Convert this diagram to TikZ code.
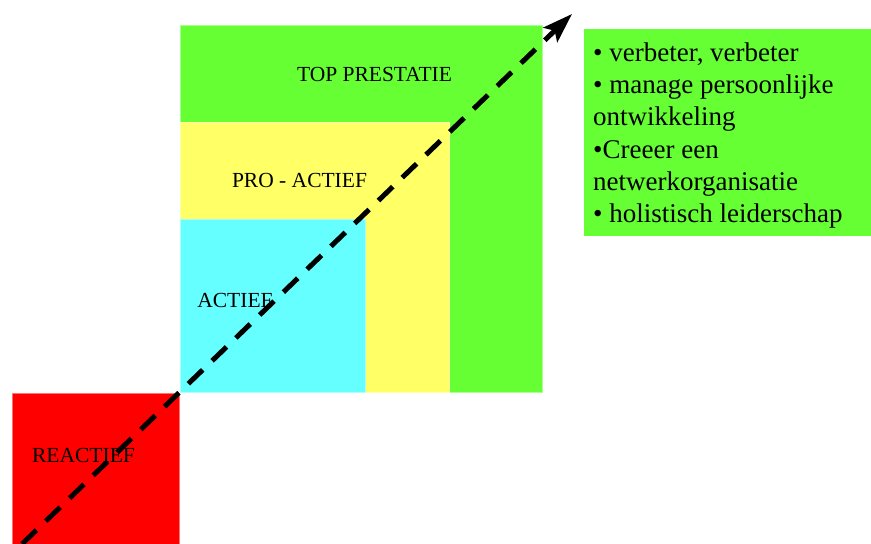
\documentclass[tikz,border=0pt]{standalone}
\usepackage{fontspec}
\setmainfont{Liberation Serif}
\usetikzlibrary{arrows.meta}

\definecolor{topgreen}{HTML}{66FF33}
\definecolor{proyellow}{HTML}{FFFF66}
\definecolor{actcyan}{HTML}{66FFFF}
\definecolor{reared}{HTML}{FF0000}

\begin{document}
\begin{tikzpicture}[x=1pt,y=-1pt,
  level/.style={draw=#1!55!white, line width=0.8pt, fill=#1},
  levellabel/.style={anchor=base, inner sep=0pt, font=\fontsize{21.5}{25}\selectfont},
  listbox/.style={fill=topgreen, draw=none, anchor=north west, inner sep=0pt,
    minimum width=287pt, minimum height=207pt},
  listtext/.style={anchor=north west, inner sep=0pt, align=left,
    font=\fontsize{27}{32.2}\selectfont},
  growth/.style={line width=5pt, dash pattern=on 20pt off 13pt,
    -{Stealth[length=30pt, width=20pt, inset=6pt]}}]
  \useasboundingbox (0,0) rectangle (871,544);

  % nested levels
  \fill[level=topgreen] (180,25) rectangle (542,392);
  \fill[level=proyellow] (180,122) rectangle (449,392);
  \fill[level=actcyan] (180,219) rectangle (365,392);
  \fill[level=reared] (12,393) rectangle (179,544);

  % level names
  \node[levellabel] (top) at (374.5,81) {TOP PRESTATIE};
  \node[levellabel] (pro) at (299.5,187) {PRO - ACTIEF};
  \node[levellabel] (act) at (235,307) {ACTIEF};
  \node[levellabel] (rea) at (83.5,462) {REACTIEF};

  % list of top-level traits
  \node[listbox] (box) at (584,29) {};
  \node[listtext] (list) at (593,42.6) {%
    • verbeter, verbeter\\
    • manage persoonlijke\\
    ontwikkeling\\
    •Creeer een\\
    netwerkorganisatie\\
    • holistisch leiderschap};

  % growth direction
  \coordinate (start) at (22,544);
  \coordinate (tip) at (572,14);
  \draw[growth] (start) -- (tip);
\end{tikzpicture}
\end{document}
